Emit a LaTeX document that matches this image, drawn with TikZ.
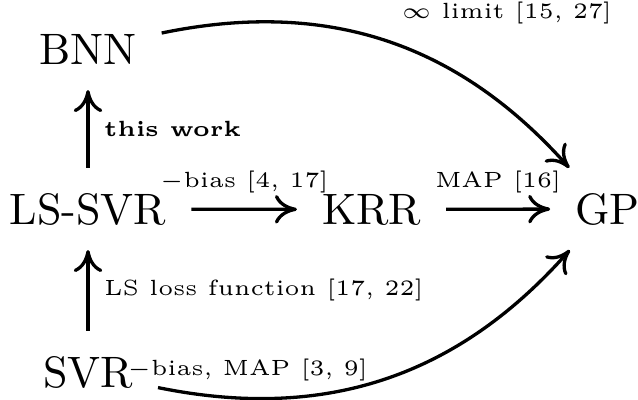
\documentclass[tikz,border=0pt]{standalone}
\usetikzlibrary{arrows.meta}
\begin{document}
\begin{tikzpicture}[x=0.22727pt, y=0.22727pt,
  obj/.style={inner sep=5.5pt, font=\normalsize, anchor=base},
  lab/.style={font=\tiny, inner sep=3.33pt},
  arr/.style={line width=0.75pt, -{Computer Modern Rightarrow[length=5pt,width=6.5pt]}}]
\useasboundingbox (0,0) rectangle (638,399);
\node[obj] (bnn)   at (88,334)  {BNN};
\node[obj] (lssvr) at (88,175)  {LS-SVR};
\node[obj] (krr)   at (371.5,175) {KRR};
\node[obj] (gp)    at (607.5,175) {GP};
\node[obj] (svr)   at (88,12)   {SVR};
\draw[arr] (lssvr) -- node[lab, anchor=west] {\textbf{this work}} (bnn);
\draw[arr] (svr) -- node[lab, anchor=west] {LS loss function [17, 22]} (lssvr);
\draw[arr] (lssvr) -- node[lab, anchor=south] {$-$bias [4, 17]} (krr);
\draw[arr] (krr) -- node[lab, anchor=south] {MAP [16]} (gp);
\draw[arr] (bnn) to[bend left=30] node[lab, midway, anchor=south west] {$\infty$ limit [15, 27]} (gp);
\draw[arr] (svr) to[bend right=30] node[lab, midway, anchor=south east, yshift=-4pt] {$-$bias, MAP [3, 9]} (gp);
\end{tikzpicture}
\end{document}
